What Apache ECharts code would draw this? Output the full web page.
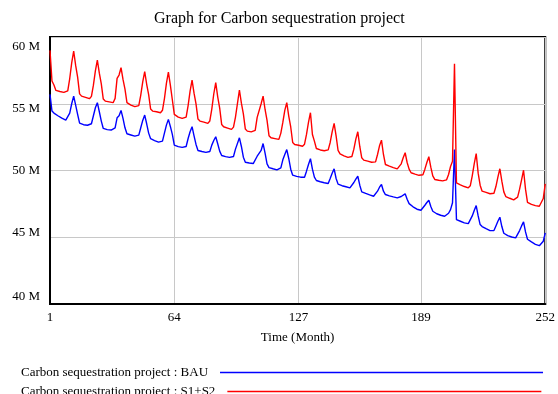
<!DOCTYPE html>
<html>
<head>
<meta charset="utf-8">
<script src="https://cdn.jsdelivr.net/npm/echarts@6/dist/echarts.min.js"></script>
<style>
  html, body { margin: 0; padding: 0; background: #fff; }
  #chart { width: 558px; height: 394px; }
</style>
</head>
<body>
<div id="chart"></div>
<script>
// months 1..252 (x categories)
const months = Array.from({ length: 252 }, (_, i) => i + 1);
const tickMonths = [1, 64, 127, 189, 252];

// values in millions, one row per year (12 months)
const bau = [
  55.7, 54.45, 54.3, 54.18, 54.1, 54.0, 53.92, 53.85, 53.78, 53.7, 54.3, 55.0,
  55.57, 54.9, 54.2, 53.55, 53.45, 53.43, 53.41, 53.39, 53.37, 53.5, 54.1, 54.7,
  55.08, 54.4, 53.7, 53.15, 53.07, 53.06, 53.05, 53.03, 53.02, 53.2, 53.95, 54.1,
  54.5, 53.9, 53.2, 52.75, 52.7, 52.66, 52.62, 52.57, 52.53, 52.65, 53.2, 53.75,
  54.15, 53.5, 52.8, 52.38, 52.3, 52.24, 52.18, 52.13, 52.08, 52.2, 52.8, 53.4,
  53.83, 53.3, 52.7, 51.9, 51.82, 51.79, 51.76, 51.73, 51.7, 51.8, 52.4, 52.9,
  53.28, 52.6, 51.95, 51.5, 51.45, 51.42, 51.39, 51.36, 51.33, 51.42, 51.9, 52.25,
  52.53, 52.0, 51.45, 51.12, 51.07, 51.04, 51.01, 50.98, 50.95, 51.05, 51.6, 51.7,
  52.45, 51.8, 51.0, 50.62, 50.58, 50.56, 50.54, 50.52, 50.55, 51.07, 51.0, 51.5,
  52.02, 51.3, 50.5, 50.22, 50.18, 50.13, 50.09, 50.05, 50.02, 50.2, 50.8, 51.2,
  51.57, 50.9, 50.1, 49.65, 49.6, 49.56, 49.53, 49.5, 49.47, 49.5, 49.95, 50.45,
  50.88, 50.1, 49.5, 49.25, 49.2, 49.16, 49.12, 49.08, 49.05, 49.03, 49.4, 49.8,
  50.12, 49.4, 48.98, 48.9, 48.86, 48.82, 48.78, 48.74, 48.7, 48.8, 49.1, 49.35,
  49.57, 48.9, 48.4, 48.33, 48.28, 48.22, 48.17, 48.12, 48.07, 48.12, 48.45, 48.75,
  48.95, 48.45, 48.2, 48.15, 48.1, 48.06, 48.02, 47.98, 47.95, 47.95, 48.05, 48.15,
  48.25, 47.85, 47.52, 47.38, 47.28, 47.18, 47.1, 47.05, 47.02, 47.1, 47.4, 47.6,
  47.77, 47.3, 46.95, 46.83, 46.76, 46.7, 46.65, 46.6, 46.57, 46.65, 46.8, 47.07,
  47.58, 51.57, 46.32, 46.26, 46.2, 46.14, 46.08, 46.04, 46.02, 46.1, 46.6, 47.0,
  47.37, 46.6, 45.95, 45.8, 45.72, 45.64, 45.57, 45.5, 45.45, 45.5, 45.85, 46.2,
  46.5, 45.8, 45.3, 45.18, 45.12, 45.07, 45.02, 44.98, 44.95, 45.05, 45.5, 45.85,
  46.15, 45.4, 44.85, 44.75, 44.65, 44.56, 44.47, 44.4, 44.37, 44.38, 44.7, 45.33
];

const s1s2 = [
  59.0, 56.7, 56.4, 56.0, 55.95, 55.92, 55.88, 55.85, 55.8, 55.97, 56.89, 58.06,
  58.95, 57.87, 56.99, 55.74, 55.57, 55.52, 55.48, 55.43, 55.38, 55.55, 56.39, 57.46,
  58.27, 57.29, 56.49, 55.35, 55.2, 55.17, 55.14, 55.11, 55.08, 55.4, 56.9, 57.15,
  57.7, 56.82, 56.1, 55.09, 54.95, 54.9, 54.85, 54.78, 54.7, 54.86, 55.65, 56.64,
  57.4, 56.46, 55.69, 54.6, 54.45, 54.42, 54.4, 54.37, 54.33, 54.51, 55.39, 56.52,
  57.37, 56.4, 55.3, 54.2, 54.07, 54.0, 53.95, 53.9, 53.83, 54.0, 54.86, 55.95,
  56.77, 55.79, 54.99, 53.85, 53.7, 53.66, 53.62, 53.57, 53.53, 53.71, 54.6, 55.73,
  56.58, 55.52, 54.67, 53.45, 53.28, 53.23, 53.18, 53.13, 53.08, 53.25, 54.0, 54.05,
  56.03, 55.04, 54.24, 53.1, 52.95, 52.92, 52.89, 52.86, 53.0, 53.98, 53.9, 55.0,
  55.57, 54.57, 53.76, 52.61, 52.45, 52.42, 52.39, 52.36, 52.33, 52.8, 53.6, 54.5,
  55.08, 54.08, 53.26, 52.1, 51.95, 51.92, 51.89, 51.86, 51.82, 51.97, 52.7, 53.6,
  54.33, 52.7, 52.2, 51.65, 51.57, 51.54, 51.51, 51.48, 51.45, 51.55, 52.1, 52.9,
  53.53, 52.6, 51.5, 51.25, 51.18, 51.1, 51.03, 50.98, 50.95, 51.05, 51.6, 52.35,
  52.9, 51.8, 50.95, 50.78, 50.74, 50.7, 50.66, 50.62, 50.58, 50.65, 51.2, 51.85,
  52.27, 51.2, 50.45, 50.38, 50.33, 50.28, 50.22, 50.17, 50.12, 50.15, 50.5, 50.95,
  51.33, 50.6, 50.1, 49.83, 49.78, 49.73, 49.68, 49.64, 49.62, 49.68, 50.1, 50.6,
  51.03, 50.25, 49.6, 49.33, 49.3, 49.27, 49.24, 49.22, 49.2, 49.3, 49.7, 50.3,
  50.7, 58.0, 49.08, 49.0, 48.93, 48.86, 48.8, 48.75, 48.7, 48.85, 49.6, 50.5,
  51.27, 49.8, 48.9, 48.45, 48.4, 48.36, 48.31, 48.26, 48.2, 48.3, 48.8, 49.5,
  50.13, 49.2, 48.4, 48.05, 47.98, 47.92, 47.86, 47.8, 47.77, 48.0, 48.6, 49.3,
  50.02, 48.6, 47.62, 47.52, 47.46, 47.41, 47.37, 47.34, 47.32, 47.36, 47.9, 49.0
];

const seriesNames = ['Carbon sequestration project : BAU', 'Carbon sequestration project : S1+S2'];

const serif = "'Liberation Serif', 'Times New Roman', serif";
const txt = { fontFamily: serif, fontSize: 13, color: '#000' };

const myChart = echarts.init(document.getElementById('chart'));
const isTick = (i) => tickMonths.indexOf(months[i]) >= 0;

myChart.setOption({
  animation: false,
  title: {
    text: 'Graph for Carbon sequestration project',
    left: 149,
    top: 6,
    textStyle: { fontFamily: serif, fontSize: 16, fontWeight: 'normal', color: '#000' }
  },
  grid: {
    left: 50,
    right: 11,
    top: 37,
    bottom: 90,
    show: true,
    borderColor: '#000',
    borderWidth: 2
  },
  legend: [
    {
      data: [seriesNames[0]],
      left: 21,
      top: 366,
      padding: 0,
      align: 'right',
      icon: 'rect',
      itemWidth: 323,
      itemHeight: 1.5,
      selectedMode: false,
      textStyle: Object.assign({ padding: [0, 7, 0, 0] }, txt)
    },
    {
      data: [seriesNames[1]],
      left: 21,
      top: 385,
      padding: 0,
      align: 'right',
      icon: 'rect',
      itemWidth: 314,
      itemHeight: 1.5,
      selectedMode: false,
      textStyle: Object.assign({ padding: [0, 7, 0, 0] }, txt)
    }
  ],
  xAxis: {
    type: 'category',
    data: months,
    boundaryGap: false,
    name: 'Time (Month)',
    nameLocation: 'middle',
    nameGap: 27,
    nameTextStyle: txt,
    axisLine: { lineStyle: { color: '#000', width: 2 } },
    axisTick: { show: false, interval: isTick },
    axisLabel: Object.assign({ interval: isTick, margin: 7 }, txt),
    splitLine: { show: true, interval: isTick, lineStyle: { color: '#c8c8c8', width: 1 } }
  },
  yAxis: {
    type: 'value',
    min: 40,
    max: 60,
    interval: 5,
    axisLine: { show: true, lineStyle: { color: '#000', width: 2 } },
    axisTick: { show: false },
    axisLabel: Object.assign({
      margin: 10,
      formatter: (v) => '{y' + v + '|' + v + ' M}',
      rich: {
        y60: Object.assign({ padding: [19, 0, 0, 0] }, txt),
        y55: Object.assign({ padding: [9, 0, 0, 0] }, txt),
        y50: Object.assign({}, txt),
        y45: Object.assign({ padding: [0, 0, 10, 0] }, txt),
        y40: Object.assign({ padding: [0, 0, 15, 0] }, txt)
      }
    }, txt),
    splitLine: { lineStyle: { color: '#c8c8c8', width: 1 } }
  },
  series: [
    {
      name: seriesNames[0],
      type: 'line',
      data: bau,
      showSymbol: false,
      color: '#0000ff',
      lineStyle: { color: '#0000ff', width: 1.4 }
    },
    {
      name: seriesNames[1],
      type: 'line',
      data: s1s2,
      showSymbol: false,
      color: '#ff0000',
      lineStyle: { color: '#ff0000', width: 1.4 }
    }
  ]
});
</script>
</body>
</html>
